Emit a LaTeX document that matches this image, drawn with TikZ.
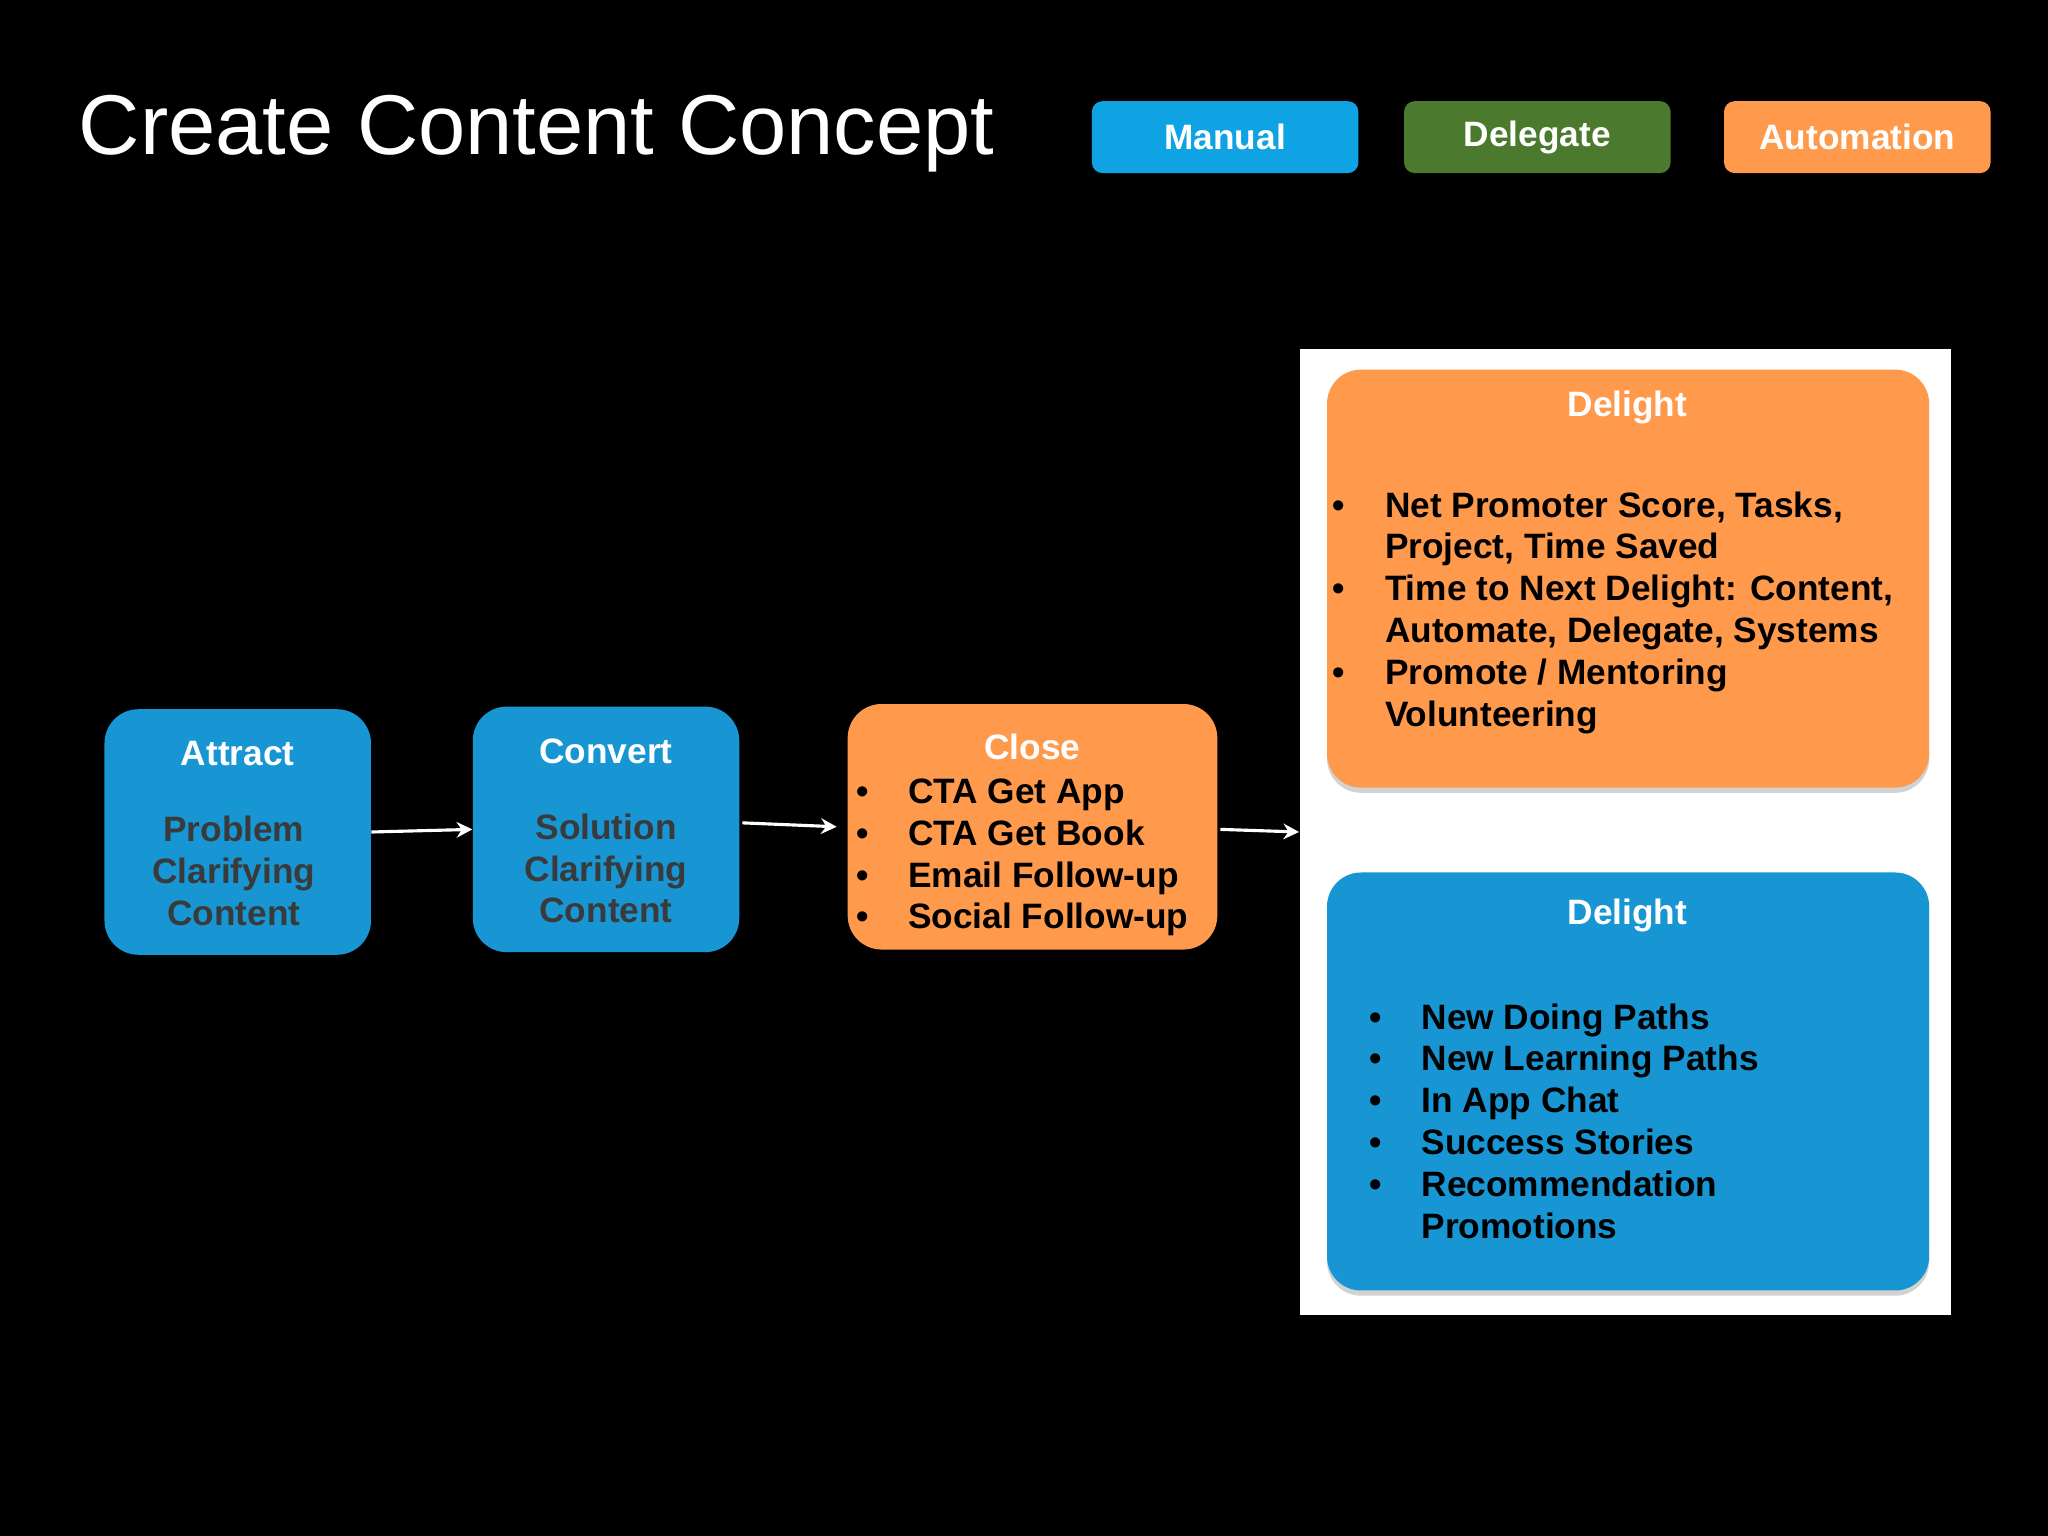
\documentclass[tikz,border=0pt]{standalone}
\usepackage{fontspec}
\setmainfont{Liberation Sans}
\usetikzlibrary{arrows.meta,shadows}
\definecolor{manualblue}{HTML}{0FA3E3}
\definecolor{boxblue}{HTML}{1796D3}
\definecolor{delegategreen}{HTML}{4B7A2E}
\definecolor{autoorange}{HTML}{FF9A4C}
\definecolor{bodygray}{HTML}{3A3A3A}
\tikzset{
  legend/.style={fill=#1,rounded corners=4pt,minimum width=102pt,minimum height=27.5pt,
    text=white,font=\fontsize{13.5}{16}\selectfont\bfseries,inner sep=0pt},
  stage/.style={fill=#1,rounded corners=13pt,inner sep=0pt},
  delight/.style={fill=#1,rounded corners=13pt,inner sep=0pt,
    drop shadow={shadow xshift=0pt,shadow yshift=-2pt,opacity=0.35}},
  head/.style={text=white,font=\fontsize{13.5}{16}\selectfont\bfseries,inner sep=0pt},
  body/.style={text=#1,font=\fontsize{13.5}{16}\selectfont\bfseries,inner sep=0pt,align=left},
  flow/.style={draw=white,line width=1.2pt,-{Stealth[length=6pt,width=6pt]}}
}
\newcommand{\bul}[1]{\makebox[20pt][l]{\textbullet}#1}
\newcommand{\cont}[1]{\hspace*{20pt}#1}
\begin{document}
\begin{tikzpicture}[x=0.5pt,y=-0.5pt]
\fill[black] (0,0) rectangle (1568,1176);
\useasboundingbox (0,0) rectangle (1568,1176);
% title and legend
\node[anchor=west,text=white,font=\fontsize{32.5}{38}\selectfont,inner sep=0pt] (title) at (60,102) {Create Content Concept};
\node[legend=manualblue] (manual) at (938,105) {Manual};
\node[legend=delegategreen] (delegate) at (1177,105) {Delegate};
\node[legend=autoorange] (automation) at (1422,105) {Automation};
% stages
\node[stage=boxblue,minimum width=102pt,minimum height=94pt] (attract) at (182,637) {};
\node[head] (attracthead) at (182,577) {Attract};
\node[body=bodygray,align=center] (attractbody) at (179,667) {Problem\\Clarifying\\Content};
\node[stage=boxblue,minimum width=102pt,minimum height=94pt] (convert) at (464,635) {};
\node[head] (converthead) at (464,575) {Convert};
\node[body=bodygray,align=center] (convertbody) at (464,665) {Solution\\Clarifying\\Content};
\node[stage=autoorange,minimum width=141.5pt,minimum height=94pt] (close) at (790.5,633) {};
\node[head] (closehead) at (790.5,572) {Close};
\node[body=black,anchor=north west] (closebody) at (655,596) {\bul{CTA Get App}\\\bul{CTA Get Book}\\\bul{Email Follow-up}\\\bul{Social Follow-up}};
% delight panel
\node[fill=white,minimum width=249.5pt,minimum height=370pt,inner sep=0pt] (panel) at (1244.5,637) {};
\node[delight=autoorange,minimum width=230.5pt,minimum height=160pt] (delighttop) at (1246.5,443) {};
\node[head] (tophead) at (1246,312) {Delight};
\node[body=black,anchor=north west] (topbody) at (1020,376) {\bul{Net Promoter Score, Tasks,}\\\cont{Project, Time Saved}\\\bul{Time to Next Delight: Content,}\\\cont{Automate, Delegate, Systems}\\\bul{Promote / Mentoring}\\\cont{Volunteering}};
\node[delight=boxblue,minimum width=230.5pt,minimum height=160pt] (delightbottom) at (1246.5,828) {};
\node[head] (bottomhead) at (1246,701) {Delight};
\node[body=black,anchor=north west] (bottombody) at (1048,768) {\bul{New Doing Paths}\\\bul{New Learning Paths}\\\bul{In App Chat}\\\bul{Success Stories}\\\bul{Recommendation}\\\cont{Promotions}};
% connectors
\draw[flow] (attract.east) -- (convert.west);
\draw[flow] (convert.east) ++(2,-5) -- ([xshift=-4pt]close.west);
\draw[flow] (close.east) ++(2,2) -- (panel.west);
\end{tikzpicture}
\end{document}
